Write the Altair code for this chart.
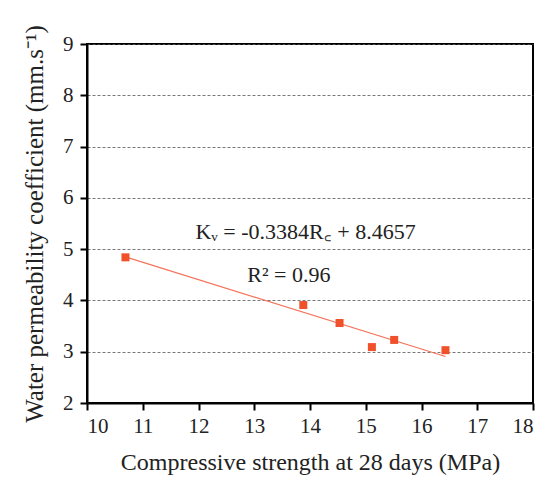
import altair as alt
import pandas as pd
import numpy as np

strength = [10.69, 13.88, 14.53, 15.11, 15.51, 16.43]
permeability = [4.84, 3.91, 3.56, 3.09, 3.23, 3.03]
slope = -0.3384
intercept = 8.4657
eq_text = ["Kᵥ = -0.3384R꜀ + 8.4657", "R² = 0.96"]
eq_x = [13.92, 13.62]
eq_y = [5.34, 4.5]

pts = pd.DataFrame({"x": strength, "y": permeability})
xs = [min(strength), max(strength)]
fit = pd.DataFrame({"x": xs, "y": [slope * v + intercept for v in xs]})
ann = pd.DataFrame({"t": eq_text, "x": eq_x, "y": eq_y})

FONT = "Liberation Serif"
xscale = alt.Scale(domain=[10, 18], nice=False, zero=False)
yscale = alt.Scale(domain=[2, 9], nice=False, zero=False)

xenc = alt.X("x:Q", scale=xscale,
             axis=alt.Axis(title="Compressive strength at 28 days (MPa)", values=list(range(10, 19)),
                           format="d", grid=False, domainColor="black", domainWidth=2, tickColor="black",
                           tickWidth=2, tickSize=7, labelFont=FONT, labelFontSize=21, labelColor="#222",
                           titleFont=FONT, titleFontSize=24, titleFontWeight="normal", titleColor="#222",
                           labelPadding=5, titlePadding=14))
yenc = alt.Y("y:Q", scale=yscale,
             axis=alt.Axis(title="Water permeability coefficient (mm.s⁻¹)", values=list(range(2, 10)),
                           format="d", grid=True, gridColor="#555", gridDash=[3, 2], gridWidth=0.8,
                           domainColor="black", domainWidth=2, tickColor="black",
                           tickWidth=2, tickSize=7, labelFont=FONT, labelFontSize=21, labelColor="#222",
                           titleFont=FONT, titleFontSize=25, titleFontWeight="normal", titleColor="#222",
                           labelPadding=7, titlePadding=15))

line = alt.Chart(fit).mark_line(color="#F4735A", strokeWidth=1.2).encode(x=xenc, y=yenc)
points = alt.Chart(pts).mark_square(size=64, color="#F0502A", opacity=1).encode(x="x:Q", y="y:Q")
text = alt.Chart(ann).mark_text(font=FONT, fontSize=22, color="#222").encode(x="x:Q", y="y:Q", text="t:N")

chart = alt.layer(line, points, text).properties(
    width=446, height=359, autosize="none",
    padding={"left": 79, "top": 36, "right": 9, "bottom": 77},
).configure_view(stroke="black", strokeWidth=2)

chart.save("out.html", embed_options={"renderer": "svg", "actions": False})
